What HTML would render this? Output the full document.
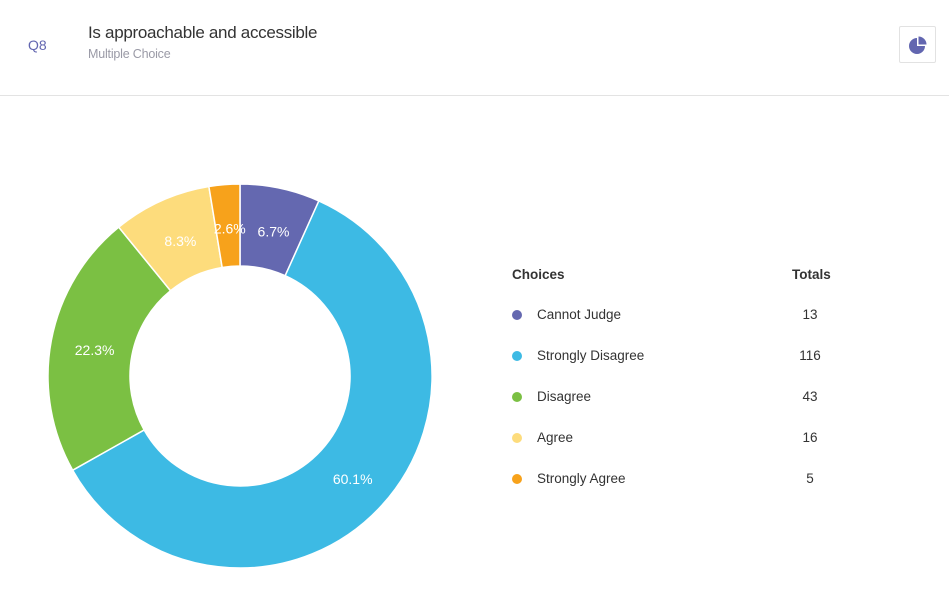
<!DOCTYPE html>
<html><head><meta charset="utf-8"><style>
body{margin:0;width:949px;height:609px;background:#fff;font-family:"Liberation Sans",sans-serif;overflow:hidden;position:relative}
.abs{position:absolute;white-space:nowrap}
</style></head><body>
<div class="abs" style="left:28px;top:37px;font-size:14px;color:#6266b0">Q8</div>
<div class="abs" style="left:88px;top:23px;font-size:17px;color:#333;letter-spacing:-0.3px">Is approachable and accessible</div>
<div class="abs" style="left:88px;top:47px;font-size:12.5px;color:#9a9aa6;letter-spacing:-0.2px">Multiple Choice</div>
<div class="abs" style="left:899px;top:26px;width:37px;height:37px;border:1px solid #e2e2e2;border-radius:2px;box-sizing:border-box">
<svg width="35" height="35" style="position:absolute;left:0;top:0"><path d="M17 11 A8 8 0 1 0 25 19 L17 19 Z" fill="#6266b0"/><path d="M18.5 9.5 A8 8 0 0 1 26.5 17.5 L18.5 17.5 Z" fill="#6266b0"/></svg></div>
<div class="abs" style="left:0;top:95px;width:949px;height:1px;background:#e3e3e3"></div>
<svg id="chart" width="949" height="609" style="position:absolute;left:0;top:0"></svg>
<div class="abs" style="left:512px;top:267px;font-size:13.5px;font-weight:bold;color:#333">Choices</div>
<div class="abs" style="left:792px;top:267px;font-size:13.5px;font-weight:bold;color:#333">Totals</div>
<div id="legend"></div>
<script>
const categories=["Cannot Judge","Strongly Disagree","Disagree","Agree","Strongly Agree"];
const values=[13,116,43,16,5];
const colors=["#6468b0","#3dbae4","#7bc043","#fddc7c","#f7a21b"];
const ns="http://www.w3.org/2000/svg";
const svg=document.getElementById('chart');
const cx=240,cy=376,R=192,r=110;
const total=values.reduce((a,b)=>a+b,0);
function pt(rad,a){return [cx+rad*Math.sin(a),cy-rad*Math.cos(a)];}
let acc=0;
values.forEach((v,i)=>{
 const a0=acc/total*2*Math.PI;acc+=v;const a1=acc/total*2*Math.PI;
 const lg=(a1-a0)>Math.PI?1:0;
 const [x0,y0]=pt(R,a0),[x1,y1]=pt(R,a1),[x2,y2]=pt(r,a1),[x3,y3]=pt(r,a0);
 const p=document.createElementNS(ns,'path');
 p.setAttribute('d',`M${x0} ${y0}A${R} ${R} 0 ${lg} 1 ${x1} ${y1}L${x2} ${y2}A${r} ${r} 0 ${lg} 0 ${x3} ${y3}Z`);
 p.setAttribute('fill',colors[i]);p.setAttribute('stroke','#fff');p.setAttribute('stroke-width','1.5');
 
 
 svg.appendChild(p);
 const am=(a0+a1)/2;const [tx,ty]=pt(150,am);
 const t=document.createElementNS(ns,'text');
 t.setAttribute('x',tx+2);t.setAttribute('y',ty+7);t.setAttribute('text-anchor','middle');
 t.setAttribute('fill','#fff');t.setAttribute('font-size','14');t.setAttribute('font-family','Liberation Sans, sans-serif');
 t.textContent=(v/total*100).toFixed(1)+'%';
 
 
 svg.appendChild(t);
});
const lg=document.getElementById('legend');
categories.forEach((c,i)=>{
 const y=315+i*41;
 const d=document.createElement('div');d.className='abs';
 d.style.cssText=`left:512px;top:${y-5}px;width:10px;height:10px;border-radius:50%;background:${colors[i]}`;
 
 
 lg.appendChild(d);
 const l=document.createElement('div');l.className='abs';
 l.style.cssText=`left:537px;top:${y-8}px;font-size:13.5px;color:#333`;l.textContent=c;
 
 
 lg.appendChild(l);
 const n=document.createElement('div');n.className='abs';
 n.style.cssText=`left:780px;width:60px;text-align:center;top:${y-8}px;font-size:13.5px;color:#333`;n.textContent=values[i];
 
 
 lg.appendChild(n);
});
</script>
</body></html>
